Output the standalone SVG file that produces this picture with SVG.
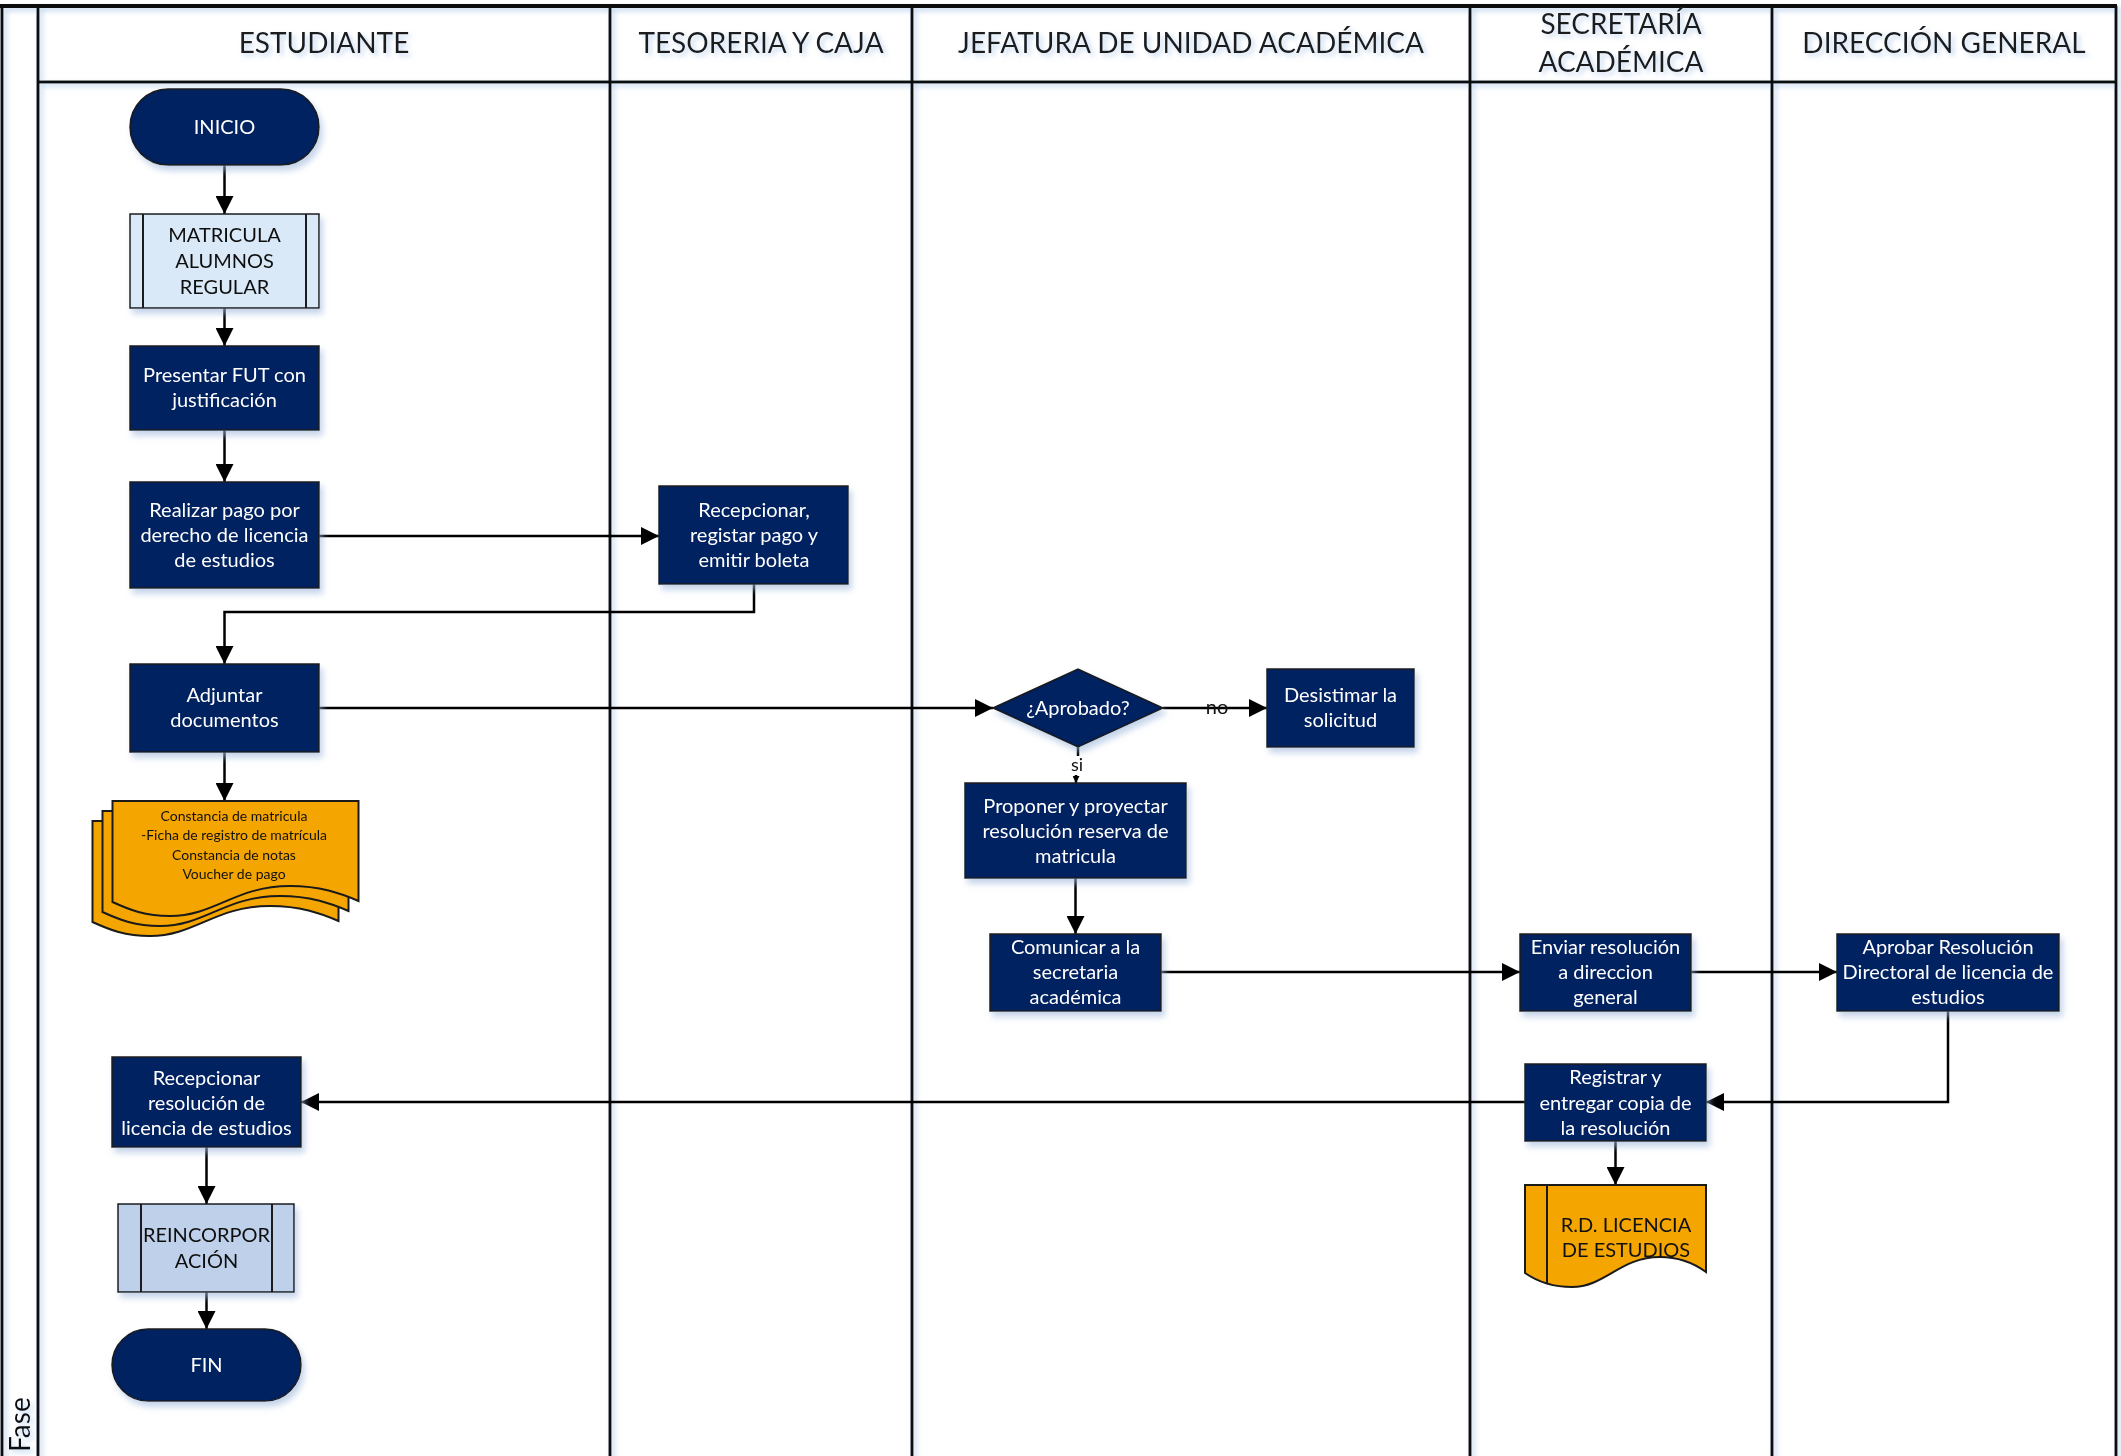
<svg xmlns="http://www.w3.org/2000/svg" width="2121" height="1456" viewBox="0 0 2121 1456">
<style>
.lane{stroke:#111;stroke-width:3;fill:none}
.hdr{font-family:Lato,"Liberation Sans",sans-serif;font-size:28px;fill:#1a1a1a;text-anchor:middle}
.box{fill:#002060;stroke:#1a1a1a;stroke-width:1.5}
.sub{stroke:#1a1a1a;stroke-width:2}
.wt{font-family:Lato,"Liberation Sans",sans-serif;font-size:20px;fill:#ffffff;text-anchor:middle}
.bt{font-family:Lato,"Liberation Sans",sans-serif;font-size:20px;fill:#111;text-anchor:middle}
.dt{font-family:Lato,"Liberation Sans",sans-serif;font-size:14px;fill:#111;text-anchor:middle}
.doc{fill:#F5A500;stroke:#1a1a1a;stroke-width:2}
.con{stroke:#000;stroke-width:2.5;fill:none}
</style>
<defs>
<filter id="sh" x="-20%" y="-20%" width="140%" height="150%">
<feDropShadow dx="3" dy="5" stdDeviation="3" flood-color="#9DB7DC" flood-opacity="0.6"/>
</filter>
<filter id="lg" x="-50%" y="-5%" width="200%" height="110%">
<feDropShadow dx="3" dy="3" stdDeviation="2.5" flood-color="#8FB3E0" flood-opacity="0.55"/>
</filter>
<marker id="ar" markerUnits="userSpaceOnUse" markerWidth="18" markerHeight="18" refX="18" refY="9" orient="auto">
<path d="M0,0 L18,9 L0,18 z" fill="#000"/>
</marker>
<marker id="ars" markerUnits="userSpaceOnUse" markerWidth="7" markerHeight="7" refX="7" refY="3.5" orient="auto">
<path d="M0,0 L7,3.5 L0,7 z" fill="#000"/>
</marker>
</defs>
<rect x="0" y="0" width="2121" height="1456" fill="#ffffff"/>

<g id="pool" filter="url(#lg)">
<line class="lane" x1="2" y1="6" x2="2" y2="1456"/>
<line class="lane" x1="0" y1="6" x2="2117" y2="6" style="stroke-width:4"/>
<line class="lane" x1="2116" y1="6" x2="2116" y2="1456"/>
<line class="lane" x1="38" y1="6" x2="38" y2="1456"/>
<line class="lane" x1="610" y1="6" x2="610" y2="1456"/>
<line class="lane" x1="912" y1="6" x2="912" y2="1456"/>
<line class="lane" x1="1470" y1="6" x2="1470" y2="1456"/>
<line class="lane" x1="1772" y1="6" x2="1772" y2="1456"/>
<line class="lane" x1="38" y1="82" x2="2116" y2="82"/>
</g>
<g id="headers" filter="url(#lg)">
<text class="hdr" x="324" y="53">ESTUDIANTE</text>
<text class="hdr" x="761" y="53">TESORERIA Y CAJA</text>
<text class="hdr" x="1191" y="53">JEFATURA DE UNIDAD ACADÉMICA</text>
<text class="hdr" x="1621" y="34">SECRETARÍA</text>
<text class="hdr" x="1621" y="72">ACADÉMICA</text>
<text class="hdr" x="1944" y="53">DIRECCIÓN GENERAL</text>
<text x="0" y="0" transform="translate(30,1452) rotate(-90)" style="font-family:Lato,'Liberation Sans',sans-serif;font-size:28px;fill:#111">Fase</text>
</g>

<g id="connectors">
<line class="con" x1="224.5" y1="165" x2="224.5" y2="214" marker-end="url(#ar)"/>
<line class="con" x1="224.5" y1="308" x2="224.5" y2="346" marker-end="url(#ar)"/>
<line class="con" x1="224.5" y1="430" x2="224.5" y2="482" marker-end="url(#ar)"/>
<line class="con" x1="319" y1="536" x2="659" y2="536" marker-end="url(#ar)"/>
<polyline class="con" points="754,584 754,612 224.5,612 224.5,664" marker-end="url(#ar)"/>
<line class="con" x1="319" y1="708" x2="993" y2="708" marker-end="url(#ar)"/>
<line class="con" x1="224.5" y1="752" x2="224.5" y2="801" marker-end="url(#ar)"/>
<line class="con" x1="1163" y1="708" x2="1267" y2="708" marker-end="url(#ar)"/>
<polyline class="con" points="1078,747 1078,760 1076,770 1076,783" marker-end="url(#ars)"/>
<line class="con" x1="1075.5" y1="878" x2="1075.5" y2="934" marker-end="url(#ar)"/>
<line class="con" x1="1161" y1="972" x2="1520" y2="972" marker-end="url(#ar)"/>
<line class="con" x1="1691" y1="972" x2="1837" y2="972" marker-end="url(#ar)"/>
<polyline class="con" points="1948,1011 1948,1102 1706,1102" marker-end="url(#ar)"/>
<line class="con" x1="1525" y1="1102" x2="301" y2="1102" marker-end="url(#ar)"/>
<line class="con" x1="1615.5" y1="1141" x2="1615.5" y2="1185" marker-end="url(#ar)"/>
<line class="con" x1="206.5" y1="1147" x2="206.5" y2="1204" marker-end="url(#ar)"/>
<line class="con" x1="206.5" y1="1292" x2="206.5" y2="1329" marker-end="url(#ar)"/>
<text class="bt" x="1217" y="714">no</text>
<rect x="1066" y="756" width="22" height="19" fill="#ffffff"/>
<text class="bt" x="1077" y="771" style="font-size:18px">si</text>
</g>

<g id="inicio" filter="url(#sh)">
<rect class="box" x="130" y="89" width="189" height="76" rx="38"/>
<text class="wt" x="224.5" y="134">INICIO</text>
</g>
<g id="matricula" filter="url(#sh)">
<rect x="130" y="214" width="189" height="94" fill="#DAE9F7" stroke="#1a1a1a" stroke-width="1.5"/>
<line class="sub" x1="143" y1="214" x2="143" y2="308"/>
<line class="sub" x1="306" y1="214" x2="306" y2="308"/>
<text class="bt" x="224.5" y="242">MATRICULA</text>
<text class="bt" x="224.5" y="268">ALUMNOS</text>
<text class="bt" x="224.5" y="294">REGULAR</text>
</g>
<g id="presentar" filter="url(#sh)">
<rect class="box" x="130" y="346" width="189" height="84"/>
<text class="wt" x="224.5" y="382">Presentar FUT con</text>
<text class="wt" x="224.5" y="407">justificación</text>
</g>
<g id="realizar" filter="url(#sh)">
<rect class="box" x="130" y="482" width="189" height="106"/>
<text class="wt" x="224.5" y="517">Realizar pago por</text>
<text class="wt" x="224.5" y="542">derecho de licencia</text>
<text class="wt" x="224.5" y="567">de estudios</text>
</g>
<g id="recepcionar-pago" filter="url(#sh)">
<rect class="box" x="659" y="486" width="189" height="98"/>
<text class="wt" x="754" y="517">Recepcionar,</text>
<text class="wt" x="754" y="542">registar pago y</text>
<text class="wt" x="754" y="567">emitir boleta</text>
</g>
<g id="adjuntar" filter="url(#sh)">
<rect class="box" x="130" y="664" width="189" height="88"/>
<text class="wt" x="224.5" y="702">Adjuntar</text>
<text class="wt" x="224.5" y="727">documentos</text>
</g>
<g id="documentos">
<path class="doc" d="M92.5,821 H338.5 V921 C320,913 300,906 270,906 C215,906 195,936 150,936 C125,936 110,930 92.5,922 Z"/>
<path class="doc" d="M102.5,811 H348.5 V911 C330,903 310,896 280,896 C225,896 205,926 160,926 C135,926 120,920 102.5,912 Z"/>
<path class="doc" d="M112.5,801 H358.5 V901 C340,893 320,886 290,886 C235,886 215,916 170,916 C145,916 130,910 112.5,902 Z"/>
<text class="dt" x="234" y="821">Constancia de matricula</text>
<text class="dt" x="234" y="840">-Ficha de registro de matrícula</text>
<text class="dt" x="234" y="860">Constancia de notas</text>
<text class="dt" x="234" y="879">Voucher de pago</text>
</g>
<g id="aprobado" filter="url(#sh)">
<polygon class="box" points="993,708 1078,669 1163,708 1078,747"/>
<text class="wt" x="1078" y="715">¿Aprobado?</text>
</g>
<g id="desistimar" filter="url(#sh)">
<rect class="box" x="1267" y="669" width="147" height="78"/>
<text class="wt" x="1340.5" y="702">Desistimar la</text>
<text class="wt" x="1340.5" y="727">solicitud</text>
</g>
<g id="proponer" filter="url(#sh)">
<rect class="box" x="965" y="783" width="221" height="95"/>
<text class="wt" x="1075.5" y="813">Proponer y proyectar</text>
<text class="wt" x="1075.5" y="838">resolución reserva de</text>
<text class="wt" x="1075.5" y="863">matricula</text>
</g>
<g id="comunicar" filter="url(#sh)">
<rect class="box" x="990" y="934" width="171" height="77"/>
<text class="wt" x="1075.5" y="954">Comunicar a la</text>
<text class="wt" x="1075.5" y="979">secretaria</text>
<text class="wt" x="1075.5" y="1004">académica</text>
</g>
<g id="enviar" filter="url(#sh)">
<rect class="box" x="1520" y="934" width="171" height="77"/>
<text class="wt" x="1605.5" y="954">Enviar resolución</text>
<text class="wt" x="1605.5" y="979">a direccion</text>
<text class="wt" x="1605.5" y="1004">general</text>
</g>
<g id="aprobar" filter="url(#sh)">
<rect class="box" x="1837" y="934" width="222" height="77"/>
<text class="wt" x="1948" y="954">Aprobar Resolución</text>
<text class="wt" x="1948" y="979">Directoral de licencia de</text>
<text class="wt" x="1948" y="1004">estudios</text>
</g>
<g id="registrar" filter="url(#sh)">
<rect class="box" x="1525" y="1064" width="181" height="77"/>
<text class="wt" x="1615.5" y="1084">Registrar y</text>
<text class="wt" x="1615.5" y="1110">entregar copia de</text>
<text class="wt" x="1615.5" y="1135">la resolución</text>
</g>
<g id="rd-licencia">
<path class="doc" d="M1525,1185 H1706 V1272 C1695,1264 1680,1257 1660,1257 C1620,1257 1605,1287 1572,1287 C1553,1287 1538,1282 1525,1273 Z"/>
<line class="sub" x1="1547" y1="1185" x2="1547" y2="1284"/>
<text class="bt" x="1626" y="1232">R.D. LICENCIA</text>
<text class="bt" x="1626" y="1257">DE ESTUDIOS</text>
</g>
<g id="recepcionar-resolucion" filter="url(#sh)">
<rect class="box" x="112" y="1057" width="189" height="90"/>
<text class="wt" x="206.5" y="1085">Recepcionar</text>
<text class="wt" x="206.5" y="1110">resolución de</text>
<text class="wt" x="206.5" y="1135">licencia de estudios</text>
</g>
<g id="reincorporacion" filter="url(#sh)">
<rect x="118" y="1204" width="176" height="88" fill="#BFD1EA" stroke="#1a1a1a" stroke-width="1.5"/>
<line class="sub" x1="141" y1="1204" x2="141" y2="1292"/>
<line class="sub" x1="272" y1="1204" x2="272" y2="1292"/>
<text class="bt" x="206.5" y="1242">REINCORPOR</text>
<text class="bt" x="206.5" y="1268">ACIÓN</text>
</g>
<g id="fin" filter="url(#sh)">
<rect class="box" x="112" y="1329" width="189" height="72" rx="36"/>
<text class="wt" x="206.5" y="1372">FIN</text>
</g>
</svg>
